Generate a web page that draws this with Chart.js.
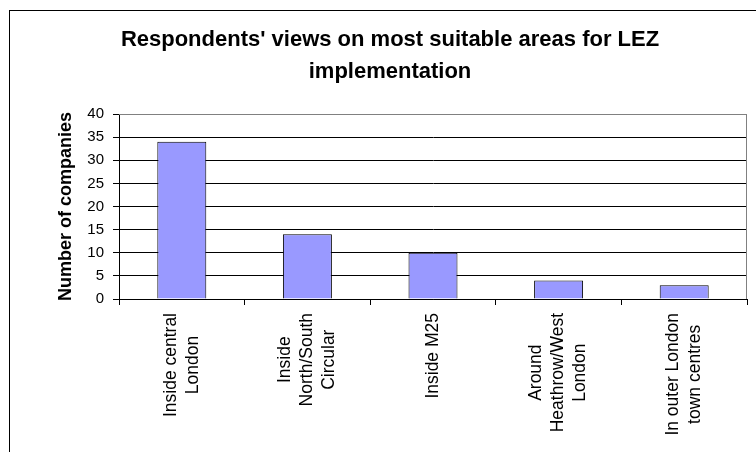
<!DOCTYPE html>
<html>
<head>
<meta charset="utf-8">
<script src="https://cdn.jsdelivr.net/npm/chart.js@4"></script>
<style>
  html, body { margin: 0; padding: 0; background: #fff; overflow: hidden; }
  #frame {
    position: absolute; left: 9px; top: 10px; width: 800px; height: 500px;
    border-left: 1px solid #000; border-top: 1px solid #000;
  }
  #myChart { position: absolute; left: 0; top: 0; }
</style>
</head>
<body>
<div id="frame"></div>
<canvas id="myChart" width="756" height="452"></canvas>
<script>
  const titleLines = ["Respondents' views on most suitable areas for LEZ", 'implementation']
  const categories = [
    ['Inside central', 'London'],
    ['Inside', 'North/South', 'Circular'],
    ['Inside M25'],
    ['Around', 'Heathrow/West', 'London'],
    ['In outer London', 'town centres']
  ]
  const companies = [34, 14, 10, 4, 3]
  const yTicks = [0, 5, 10, 15, 20, 25, 30, 35, 40]

  const FONT = "'Liberation Sans', Arial, sans-serif"

  // draw the category labels rotated, lines centred on each other like the original
  const xLabels = {
    id: 'xLabels',
    afterDraw(chart) {
      const scale = chart.scales.x
      const ctx = chart.ctx
      const lh = 22
      ctx.save()
      ctx.font = '17.5px ' + FONT
      ctx.fillStyle = '#000'
      ctx.textAlign = 'center'
      ctx.textBaseline = 'middle'
      categories.forEach((lines, i) => {
        const x = scale.getPixelForValue(i)
        const y = scale.top + 14
        const maxW = Math.max(...lines.map(l => ctx.measureText(l).width))
        ctx.save()
        ctx.translate(x, y)
        ctx.rotate(-Math.PI / 2)
        lines.forEach((l, j) => {
          ctx.fillText(l, -maxW / 2, (j - (lines.length - 1) / 2) * lh)
        })
        ctx.restore()
      })
      ctx.restore()
    }
  }

  // grey plot-area edge at top and right
  const plotEdge = {
    id: 'plotEdge',
    beforeDatasetsDraw(chart) {
      const {ctx, chartArea: a} = chart
      ctx.save()
      ctx.strokeStyle = '#808080'
      ctx.lineWidth = 1
      ctx.beginPath()
      ctx.moveTo(a.left, a.top + 0.5)
      ctx.lineTo(a.right - 0.5, a.top + 0.5)
      ctx.lineTo(a.right - 0.5, a.bottom)
      ctx.stroke()
      ctx.restore()
    }
  }

  const ctx = document.getElementById('myChart')
  // eslint-disable-next-line no-unused-vars
  const myChart = new Chart(ctx, {
    type: 'bar',
    data: {
      labels: categories.map(c => c.join(' ')),
      datasets: [{
        data: companies,
        backgroundColor: '#9999FF',
        borderColor: '#000',
        borderWidth: 1,
        barPercentage: 0.39,
        categoryPercentage: 1
      }]
    },
    plugins: [plotEdge, xLabels],
    options: {
      responsive: false,
      animation: false,
      devicePixelRatio: 1,
      layout: { padding: { left: 33, right: 9, top: 0, bottom: 0 } },
      plugins: {
        legend: { display: false },
        tooltip: { enabled: false },
        title: {
          display: true,
          text: titleLines,
          color: '#000',
          font: { family: FONT, size: 22, weight: 'bold', lineHeight: '32px' },
          padding: { top: 24, bottom: 26 }
        }
      },
      scales: {
        x: {
          offset: true,
          afterFit(scale) { scale.height = 153 },
          grid: {
            offset: true,
            drawOnChartArea: false,
            drawTicks: true,
            tickLength: 6,
            tickColor: '#000'
          },
          border: { color: '#000', width: 1 },
          ticks: { display: false, autoSkip: false }
        },
        y: {
          min: 0,
          max: 40,
          afterFit(scale) { scale.width = 86 },
          afterBuildTicks(scale) { scale.ticks = yTicks.map(v => ({ value: v })) },
          grid: {
            color: c => (c.tick && c.tick.value === 40 ? '#808080' : '#000'),
            tickColor: '#000',
            tickLength: 6,
            lineWidth: 1
          },
          border: { color: '#000', width: 1 },
          ticks: {
            color: '#000',
            padding: 9,
            font: { family: FONT, size: 15 }
          },
          title: {
            display: true,
            text: 'Number of companies',
            color: '#000',
            font: { family: FONT, size: 18, weight: 'bold' },
            padding: { top: 22, bottom: 0 }
          }
        }
      }
    }
  })
</script>
</body>
</html>
